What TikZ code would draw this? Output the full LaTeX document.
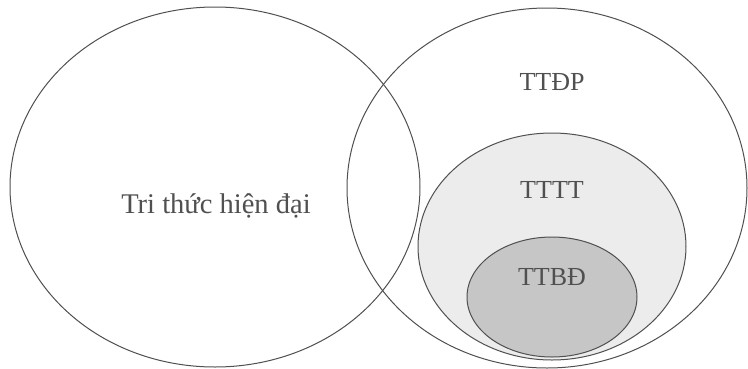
\documentclass[tikz,border=0pt]{standalone}
\usepackage{fontspec}
\setmainfont{Liberation Serif}
\usetikzlibrary{shapes.geometric}
\definecolor{linec}{HTML}{505050}
\definecolor{textc}{HTML}{505050}
\definecolor{lightfill}{HTML}{ECECEC}
\definecolor{darkfill}{HTML}{C6C6C6}
\tikzset{
  setell/.style={ellipse, draw=linec, line width=1pt, inner sep=0pt},
  lbl/.style={text=textc, font=\fontsize{26}{28}\selectfont, inner sep=0pt}
}
\begin{document}
\begin{tikzpicture}[x=1pt,y=-1pt]
\useasboundingbox (0,0) rectangle (748,368);
\fill[white] (0,0) rectangle (748,368);
\node[setell, minimum width=400pt, minimum height=360pt] (right) at (547,188) {};
\node[setell, fill=lightfill, minimum width=268pt, minimum height=227pt] (mid) at (552,246.5) {};
\node[setell, fill=darkfill, minimum width=170pt, minimum height=120pt] (inner) at (552,297) {};
\node[setell, minimum width=410pt, minimum height=360pt] (left) at (215,187) {};
\node[lbl, font=\fontsize{28.5}{30}\selectfont] (tthd) at (216,206) {Tri thức hiện đại};
\node[lbl] (ttdp) at (552,82) {TTĐP};
\node[lbl] (tttt) at (552,190) {TTTT};
\node[lbl] (ttbd) at (552,277) {TTBĐ};
\end{tikzpicture}
\end{document}
